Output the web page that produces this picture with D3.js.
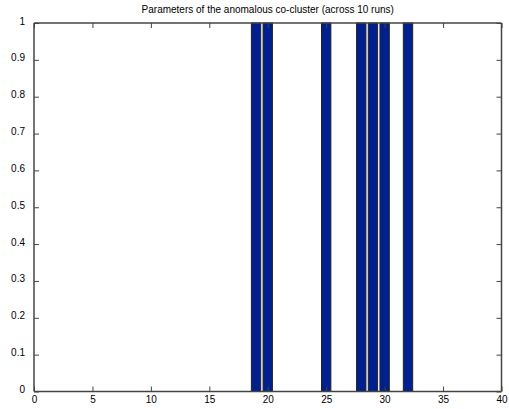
<!DOCTYPE html>
<html><head><meta charset="utf-8">
<script src="https://cdn.jsdelivr.net/npm/d3@7"></script>
<style>body{margin:0;background:#fff}svg{display:block}text{font-family:"Liberation Sans",Arial,sans-serif;font-size:10px;fill:#000}</style>
</head><body>
<script>
const titleText = "Parameters of the anomalous co-cluster (across 10 runs)";
const positions = [19, 20, 25, 28, 29, 30, 32];
const values = [1, 1, 1, 1, 1, 1, 1];
const xTicks = [0, 5, 10, 15, 20, 25, 30, 35, 40];
const yTicks = [0, 0.1, 0.2, 0.3, 0.4, 0.5, 0.6, 0.7, 0.8, 0.9, 1];

const W = 509, H = 409;
const m = {l: 34, r: 7.5, t: 23, b: 17.5};
const svg = d3.select("body").append("svg").attr("width", W).attr("height", H);
const x = d3.scaleLinear().domain([0, 40]).range([m.l, W - m.r]);
const y = d3.scaleLinear().domain([0, 1]).range([H - m.b, m.t]);
const bw = 0.8;

svg.append("g").selectAll("rect").data(positions).join("rect")
  .attr("x", (d) => x(d - bw / 2))
  .attr("y", (d, i) => y(values[i]))
  .attr("width", x(bw) - x(0))
  .attr("height", (d, i) => y(0) - y(values[i]))
  .attr("fill", "#00208f").attr("stroke", "#222").attr("stroke-width", 1);

const fmt = (d) => d === 0 ? "0" : d === 1 ? "1" : d3.format(".1f")(d);
const gx = svg.append("g").attr("transform", `translate(0,${y(0)})`)
  .call(d3.axisBottom(x).tickValues(xTicks).tickSize(-5).tickPadding(4).tickFormat(d3.format("d")));
const gxt = svg.append("g").attr("transform", `translate(0,${y(1)})`)
  .call(d3.axisTop(x).tickValues(xTicks).tickSize(-5).tickFormat(""));
const gy = svg.append("g").attr("transform", `translate(${x(0)},0)`)
  .call(d3.axisLeft(y).tickValues(yTicks).tickSize(-5).tickPadding(9).tickFormat(fmt));
const gyr = svg.append("g").attr("transform", `translate(${x(40)},0)`)
  .call(d3.axisRight(y).tickValues(yTicks).tickSize(-5).tickFormat(""));
[gx, gxt, gy, gyr].forEach(g => {
  g.selectAll("path").attr("stroke", "#444").attr("stroke-width", 1.5);
  g.selectAll("line").attr("stroke", "#444");
  g.selectAll("text").style("font-family", "'Liberation Sans',Arial,sans-serif").style("font-size", "10px").attr("fill", "#000");
});
gx.selectAll("path").attr("d", `M${x(0)},0H${x(40)}`);
gy.selectAll("path").attr("d", `M0,${y(0)}V${y(1)}`);
gxt.selectAll("path").attr("d", `M${x(0)},0H${x(40)}`);
gyr.selectAll("path").attr("d", `M0,${y(0)}V${y(1)}`);
gy.selectAll("text").attr("dy", "0.1em");

svg.append("text").attr("x", (x(0) + x(40)) / 2).attr("y", 13)
  .attr("text-anchor", "middle").style("font-size", "10px").text(titleText);
</script>
</body></html>
